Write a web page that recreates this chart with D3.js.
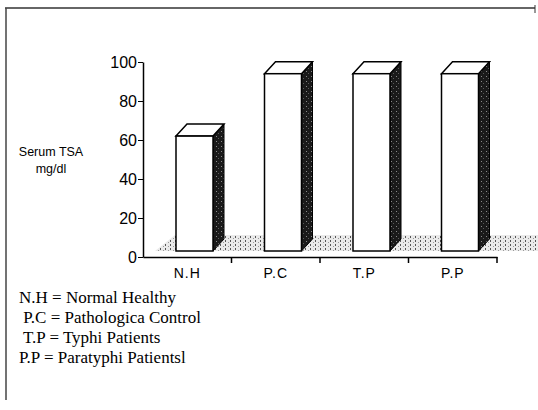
<!DOCTYPE html>
<html>
<head>
<meta charset="utf-8">
<script src="https://cdnjs.cloudflare.com/ajax/libs/d3/7.8.5/d3.min.js"></script>
<style>
  body { margin: 0; background: #fff; }
  svg { display: block; }
</style>
</head>
<body>
<div id="viz"></div>
<script>
'use strict';

// chart values
var categories = ['N.H', 'P.C', 'T.P', 'P.P'];
var tsaValues = [62, 94, 94, 94];
var yTicks = [0, 20, 40, 60, 80, 100];
var legendLines = [
  'N.H = Normal Healthy',
  ' P.C = Pathologica Control',
  ' T.P = Typhi Patients',
  'P.P = Paratyphi Patientsl'
];

var W = 538, H = 410;
var svg = d3.select('#viz').append('svg')
    .attr('width', W)
    .attr('height', H);

var defs = svg.append('defs');

// dark side face
var side = defs.append('pattern')
    .attr('id', 'sideFill')
    .attr('patternUnits', 'userSpaceOnUse')
    .attr('width', 5).attr('height', 5);
side.append('rect').attr('width', 5).attr('height', 5).attr('fill', '#1a1a1a');
side.append('rect').attr('x', 1).attr('y', 1).attr('width', 1).attr('height', 1).attr('fill', '#8a8a8a');
side.append('rect').attr('x', 3).attr('y', 3).attr('width', 1).attr('height', 1).attr('fill', '#5a5a5a');

// stippled floor
var floorPat = defs.append('pattern')
    .attr('id', 'floorFill')
    .attr('patternUnits', 'userSpaceOnUse')
    .attr('width', 5).attr('height', 4);
floorPat.append('rect').attr('width', 5).attr('height', 4).attr('fill', '#eaeaea');
floorPat.append('rect').attr('x', 0).attr('y', 0).attr('width', 1).attr('height', 2).attr('fill', '#555');
floorPat.append('rect').attr('x', 3).attr('y', 2).attr('width', 1).attr('height', 1).attr('fill', '#999');

// frame (rough border of the scan)
svg.append('line')
    .attr('x1', 5).attr('y1', 8).attr('x2', 535).attr('y2', 8)
    .style('stroke', '#333').style('stroke-width', 1.5);
svg.append('line')
    .attr('x1', 6).attr('y1', 8).attr('x2', 6).attr('y2', 400)
    .style('stroke', '#444').style('stroke-width', 1.5);
svg.append('line')
    .attr('x1', 535).attr('y1', 5).attr('x2', 535).attr('y2', 13)
    .style('stroke', '#333').style('stroke-width', 1);

var y = d3.scaleLinear().domain([0, 100]).range([257, 62]);
var x = d3.scaleBand().domain(categories).range([143, 497]);

var depthX = 11, depthY = 12, lift = 6;
var barOffset = 33, barW = 37;

// floor
var floorFront = y(0) - lift, floorBack = floorFront - 16;
svg.append('path')
    .attr('d', 'M155,' + floorFront + 'L175,' + floorBack + 'L538,' + floorBack + 'L538,' + floorFront + 'Z')
    .style('fill', 'url(#floorFill)');

// axes
var yAxis = d3.axisLeft(y).tickValues(yTicks).tickSize(5).tickSizeOuter(0);
var gy = svg.append('g').attr('transform', 'translate(143,0)').call(yAxis);
gy.select('.domain').style('stroke-width', 1.5);
gy.selectAll('text')
    .style('font-family', 'Arial, "Liberation Sans", sans-serif')
    .style('font-size', '16px')
    .attr('x', -6);

var xAxis = d3.axisBottom(x).tickSize(0).tickSizeOuter(0);
var gx = svg.append('g').attr('transform', 'translate(0,' + y(0) + ')').call(xAxis);
gx.select('.domain').style('stroke-width', 1.5);
gx.selectAll('text')
    .attr('dy', '0.71em')
    .attr('y', 11)
    .style('font-family', 'Arial, "Liberation Sans", sans-serif')
    .style('font-size', '14px')
    .style('letter-spacing', '1px');
// ticks at the band boundaries
gx.selectAll('.bound')
    .data(categories)
    .enter().append('line')
    .attr('class', 'bound')
    .attr('x1', function(d) { return x(d) + x.bandwidth(); })
    .attr('x2', function(d) { return x(d) + x.bandwidth(); })
    .attr('y1', 0).attr('y2', 6)
    .style('stroke', '#000').style('stroke-width', 1.5);

// bars
var bars = svg.selectAll('.bar')
    .data(categories)
    .enter().append('g')
    .attr('class', 'bar');

bars.append('path')
    .attr('d', function(d, i) {
      var x0 = x(d) + barOffset + barW, top = y(tsaValues[i]), bot = floorFront;
      return 'M' + x0 + ',' + top + 'L' + (x0 + depthX) + ',' + (top - depthY) +
        'L' + (x0 + depthX) + ',' + (bot - depthY) + 'L' + x0 + ',' + bot + 'Z';
    })
    .style('fill', 'url(#sideFill)')
    .style('stroke', '#000').style('stroke-width', 1);

bars.append('path')
    .attr('d', function(d, i) {
      var x0 = x(d) + barOffset, top = y(tsaValues[i]);
      return 'M' + x0 + ',' + top + 'L' + (x0 + depthX) + ',' + (top - depthY) +
        'L' + (x0 + barW + depthX) + ',' + (top - depthY) + 'L' + (x0 + barW) + ',' + top + 'Z';
    })
    .style('fill', '#fff')
    .style('stroke', '#000').style('stroke-width', 1.5);

bars.append('rect')
    .attr('x', function(d) { return x(d) + barOffset; })
    .attr('y', function(d, i) { return y(tsaValues[i]); })
    .attr('width', barW)
    .attr('height', function(d, i) { return floorFront - y(tsaValues[i]); })
    .style('fill', '#fff')
    .style('stroke', '#000').style('stroke-width', 1.5);

// y title
var title = svg.append('text')
    .attr('x', 51).attr('y', 156)
    .attr('text-anchor', 'middle')
    .style('font-family', 'Arial, "Liberation Sans", sans-serif')
    .style('font-size', '12.5px');
title.append('tspan').attr('x', 51).text('Serum TSA');
title.append('tspan').attr('x', 51).attr('dy', 17).text('mg/dl');

// legend
svg.selectAll('.legend')
    .data(legendLines)
    .enter().append('text')
    .attr('class', 'legend')
    .attr('x', 19)
    .attr('y', function(d, i) { return 303 + i * 20; })
    .attr('xml:space', 'preserve')
    .style('white-space', 'pre')
    .style('font-family', '"Liberation Serif", "Times New Roman", serif')
    .style('font-size', '17px')
    .text(function(d) { return d; });
</script>
</body>
</html>
